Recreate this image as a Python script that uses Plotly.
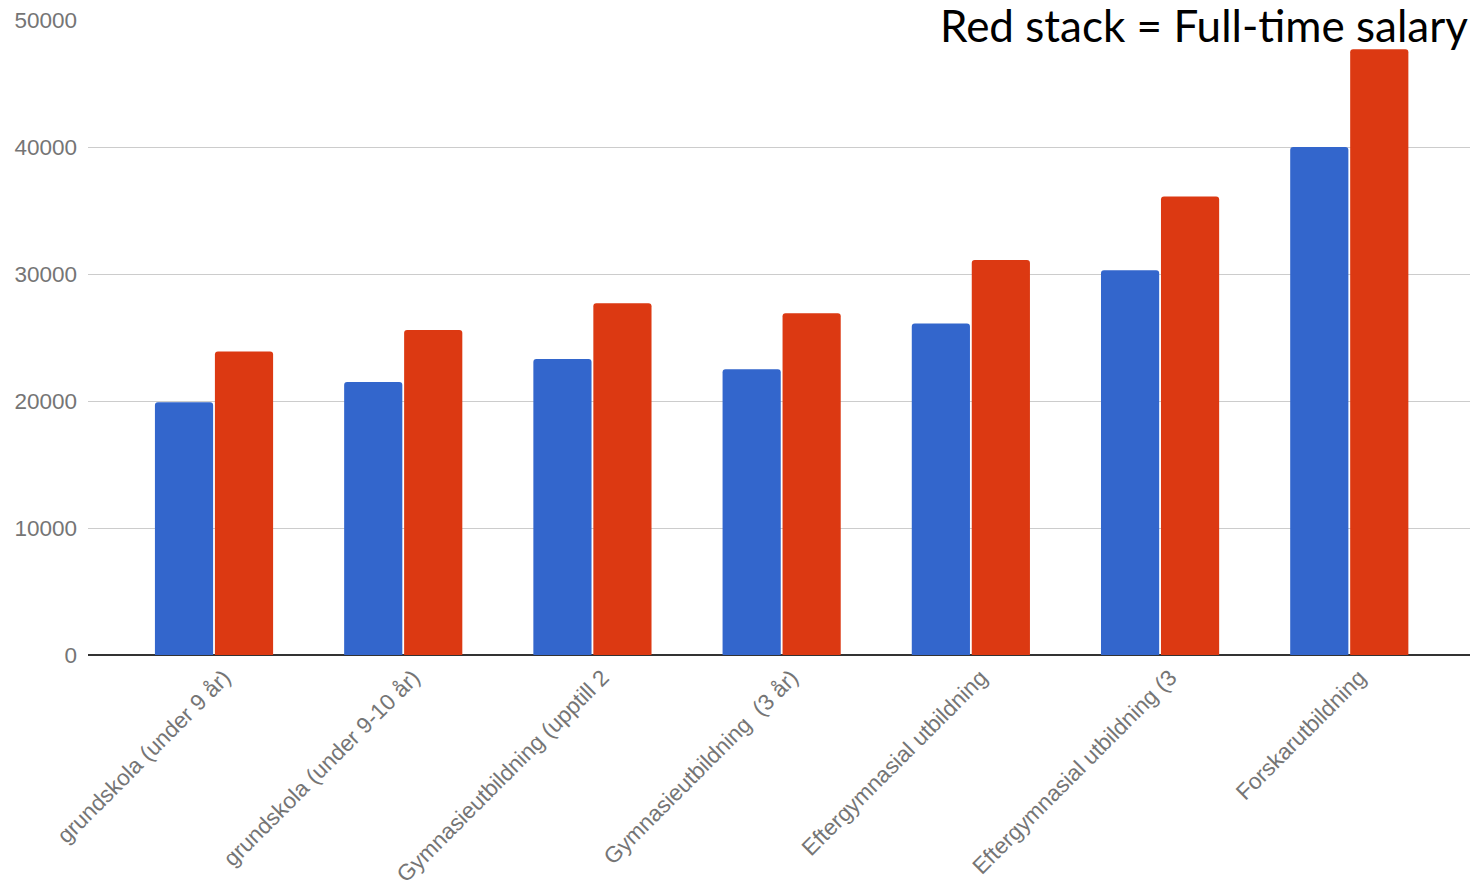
import plotly.graph_objects as go

categories = [
    "grundskola (under 9 år)",
    "grundskola (under 9-10 år)",
    "Gymnasieutbildning (upptill 2",
    "Gymnasieutbildning  (3 år)",
    "Eftergymnasial utbildning",
    "Eftergymnasial utbildning (3",
    "Forskarutbildning",
]
blue_values = [19900, 21500, 23300, 22500, 26100, 30300, 40000]
red_values = [23900, 25600, 27700, 26900, 31100, 36100, 47700]
y_ticks = [0, 10000, 20000, 30000, 40000, 50000]
title_text = "Red stack = Full-time salary"

fig = go.Figure()
fig.add_trace(go.Bar(x=categories, y=blue_values, name="Blue",
                     marker=dict(color="#3366CC", cornerradius=3, line=dict(width=0))))
fig.add_trace(go.Bar(x=categories, y=red_values, name="Red",
                     marker=dict(color="#DC3912", cornerradius=3, line=dict(width=0))))

fig.update_layout(
    width=1470, height=887,
    margin=dict(l=88, r=0, t=20, b=232),
    paper_bgcolor="white", plot_bgcolor="white",
    barmode="group", bargap=0.366, bargroupgap=0.03,
    showlegend=False,
    font=dict(family="Liberation Sans, Arial, sans-serif", color="#757575"),
)
fig.update_xaxes(
    range=[-0.666, 6.638],
    tickangle=-45, tickfont=dict(size=22.5, color="#757575"),
    showgrid=False, showline=False, ticks="",
    ticklabelshift=10, ticklabelstandoff=4,
)
fig.update_yaxes(
    range=[0, 50000], tickvals=y_ticks, ticktext=[str(v) for v in y_ticks],
    tickfont=dict(size=22.5, color="#757575"),
    showgrid=True, gridcolor="#CCCCCC", gridwidth=1,
    zeroline=True, zerolinecolor="#333333", zerolinewidth=2,
    ticklabelstandoff=10, showline=False, ticks="",
)
fig.add_annotation(
    text=title_text, xref="paper", yref="paper", x=1.0, y=1.0,
    xanchor="right", yanchor="middle", yshift=-5, showarrow=False,
    font=dict(family="Lato, Open Sans, sans-serif", size=44, color="black"),
)
fig.write_html("out.html")
